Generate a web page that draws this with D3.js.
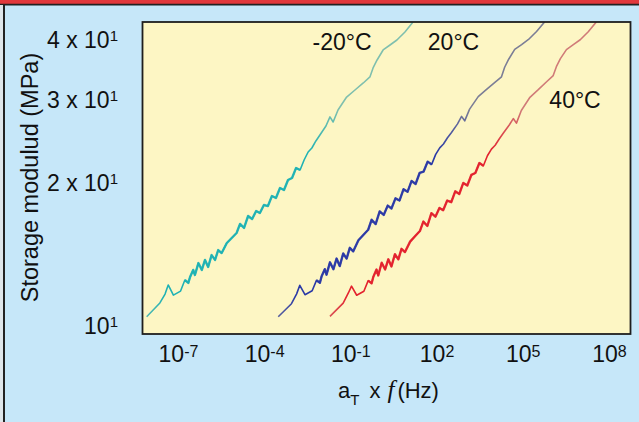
<!DOCTYPE html>
<html>
<head>
<meta charset="utf-8">
<script src="https://cdn.jsdelivr.net/npm/d3@7"></script>
<style>
  body { margin: 0; background: #c6e7f9; }
  svg { display: block; font-family: "Liberation Sans", Arial, sans-serif; }
</style>
</head>
<body>
<div id="chart"></div>
<script>
// storage modulus vs reduced frequency (aT x f), three test temperatures
var tempLabels = ["-20°C", "20°C", "40°C"];
var labelExp = [-1.29, 2.59, 6.82];
var labelMod = [40.0, 40.0, 30.2];

var xTickExp = [-7, -4, -1, 2, 5, 8];
var yTickValues = [10, 20, 30, 40];
var yTickPrefix = ["", "2 x ", "3 x ", "4 x "];

// -20°C (log10 of reduced frequency, modulus in MPa)
var expM20 = [-8.09,-7.63,-7.45,-7.34,-7.16,-6.91,-6.76,-6.64,-6.58,-6.47,-6.41,-6.29,-6.17,-6.06,-5.95,-5.83,-5.71,-5.60,-5.48,-5.30,
  -5.13,-4.96,-4.84,-4.70,-4.56,-4.42,-4.28,-4.15,-4.01,-3.87,-3.73,-3.59,-3.45,-3.31,-3.17,-3.03,-2.89,-2.75,-2.61,-2.47,
  -2.34,-2.20,-2.06,-1.85,-1.71,-1.60,-1.43,-1.13,-0.84,-0.55,-0.32,-0.21,-0.07,0.14,0.38,0.62,0.90,1.18];
var modM20 = [10.56,11.29,11.79,12.32,11.73,11.96,12.62,12.44,12.80,13.25,12.93,13.70,13.25,13.91,13.44,14.24,13.91,14.59,14.38,15.10,
  15.47,15.85,16.56,16.24,17.21,16.96,17.63,17.46,18.15,18.06,18.96,18.78,19.71,19.52,20.49,20.69,21.72,21.51,22.58,23.47,
  23.93,24.76,25.49,26.63,27.82,27.15,28.77,30.64,31.70,32.80,33.77,35.28,36.67,38.49,39.43,40.40,42.00,44.08];

// 20°C
var exp20 = [-3.51,-3.05,-2.87,-2.76,-2.58,-2.33,-2.18,-2.06,-2.00,-1.89,-1.83,-1.71,-1.59,-1.48,-1.37,-1.25,-1.13,-1.02,-0.90,-0.72,
  -0.55,-0.38,-0.26,-0.12,0.02,0.16,0.30,0.43,0.57,0.71,0.85,0.99,1.13,1.27,1.41,1.55,1.69,1.83,1.97,2.11,
  2.24,2.38,2.52,2.73,2.87,2.98,3.15,3.45,3.74,4.03,4.26,4.37,4.51,4.72,4.96,5.20,5.48,5.76];
var mod20 = [10.56,11.25,11.80,12.30,11.75,11.98,12.60,12.45,12.85,13.30,12.95,13.75,13.30,14.00,13.50,14.35,14.00,14.75,14.50,15.30,
  15.70,16.10,16.90,16.55,17.60,17.30,18.10,17.85,18.75,18.55,19.60,19.35,20.40,20.10,21.20,21.35,22.40,22.10,23.20,23.95,
  24.40,25.15,25.80,26.90,27.90,27.30,28.90,30.70,31.80,32.90,33.80,35.40,36.80,38.60,39.50,40.50,42.10,44.10];

// 40°C
var exp40 = [-1.71,-1.25,-1.07,-0.96,-0.78,-0.53,-0.38,-0.26,-0.20,-0.09,-0.03,0.09,0.21,0.32,0.43,0.55,0.67,0.78,0.90,1.08,
  1.25,1.42,1.54,1.68,1.82,1.96,2.10,2.23,2.37,2.51,2.65,2.79,2.93,3.07,3.21,3.35,3.49,3.63,3.77,3.91,
  4.04,4.18,4.32,4.53,4.67,4.78,4.95,5.25,5.54,5.83,6.06,6.17,6.31,6.52,6.76,7.00,7.28,7.56];
var mod40 = [10.58,11.28,11.85,12.25,11.72,11.95,12.58,12.42,12.82,13.28,12.90,13.72,13.28,13.95,13.48,14.30,13.95,14.68,14.45,15.20,
  15.60,16.00,16.75,16.40,17.45,17.15,17.90,17.70,18.55,18.40,19.40,19.15,20.20,19.95,21.00,21.20,22.25,21.95,23.05,23.80,
  24.25,25.00,25.70,26.75,27.60,27.00,28.70,30.60,31.75,33.00,34.00,35.50,36.90,38.55,39.50,40.45,42.05,44.10];

var curves = [
  {exps: expM20, mods: modM20, light: "#7fbfae", dense: "#1fb2b4"},
  {exps: exp20,  mods: mod20,  light: "#7c7e96", dense: "#2b3aa6"},
  {exps: exp40,  mods: mod40,  light: "#d07b78", dense: "#e3222e"}
];

var W = 639, H = 422;
var margin = {top: 22, left: 142.5},
    width = 488,
    height = 312;

var svg = d3.select("#chart").append("svg")
    .attr("width", W)
    .attr("height", H);

// page frame
svg.append("rect").attr("width", W).attr("height", H).attr("fill", "#c6e7f9");
svg.append("rect").attr("width", W).attr("height", 4).attr("fill", "#e2383c");
svg.append("line").attr("x1", 0).attr("x2", W).attr("y1", 4.6).attr("y2", 4.6)
    .attr("stroke", "#222").attr("stroke-width", 1.6);
svg.append("rect").attr("x", 0).attr("y", 5).attr("width", 3).attr("height", H).attr("fill", "#dfe6ea");
svg.append("line").attr("x1", 4).attr("x2", 4).attr("y1", 4).attr("y2", H)
    .attr("stroke", "#222").attr("stroke-width", 2);

var g = svg.append("g")
    .attr("transform", "translate(" + margin.left + "," + margin.top + ")");

// set the ranges
var x = d3.scaleLog().domain([Math.pow(10, -8.235), Math.pow(10, 8.75)]).range([0, width]);
var y = d3.scaleLog().domain([9.713, 44.08]).range([height, 0]);

g.append("rect").attr("width", width).attr("height", height).attr("fill", "#fdf6c4");

var defs = svg.append("defs");
defs.append("clipPath").attr("id", "plotclip")
  .append("rect").attr("width", width).attr("height", height);

curves.forEach(function(c, i) {
  var grad = defs.append("linearGradient").attr("id", "grad" + i)
      .attr("gradientUnits", "userSpaceOnUse")
      .attr("x1", 0).attr("x2", 0).attr("y1", height).attr("y2", 0);
  grad.append("stop").attr("offset", 0).attr("stop-color", c.light);
  grad.append("stop").attr("offset", 0.12).attr("stop-color", c.dense);
  grad.append("stop").attr("offset", 0.58).attr("stop-color", c.dense);
  grad.append("stop").attr("offset", 0.72).attr("stop-color", c.light);
  grad.append("stop").attr("offset", 1).attr("stop-color", c.light);
});

var valueline = d3.line()
    .x(function(d) { return x(Math.pow(10, d[0])); })
    .y(function(d) { return y(d[1]); });

var plot = g.append("g").attr("clip-path", "url(#plotclip)");

// full trace
plot.selectAll(".trace")
  .data(curves)
  .enter().append("path")
    .attr("class", "trace")
    .attr("d", function(c) { return valueline(d3.zip(c.exps, c.mods)); })
    .attr("fill", "none")
    .attr("stroke", function(c, i) { return "url(#grad" + i + ")"; })
    .attr("stroke-width", 1.6)
    .attr("stroke-linejoin", "round");

// the noisy middle stretch prints heavier
plot.selectAll(".dense")
  .data(curves)
  .enter().append("path")
    .attr("class", "dense")
    .attr("d", function(c) { return valueline(d3.zip(c.exps, c.mods).slice(6, 38)); })
    .attr("fill", "none")
    .attr("stroke", function(c) { return c.dense; })
    .attr("stroke-opacity", 0.85)
    .attr("stroke-width", 2.4)
    .attr("stroke-linejoin", "round");

// temperature labels
g.selectAll(".temp")
  .data(tempLabels)
  .enter().append("text")
    .attr("class", "temp")
    .attr("x", function(d, i) { return x(Math.pow(10, labelExp[i])); })
    .attr("y", function(d, i) { return y(labelMod[i]); })
    .attr("dy", "0.36em")
    .attr("text-anchor", "middle")
    .attr("font-size", 23)
    .attr("fill", "#111")
    .text(function(d) { return d; });

// plot border
g.append("rect").attr("width", width).attr("height", height)
    .attr("fill", "none").attr("stroke", "#1e1e1e").attr("stroke-width", 1.8);

// Y axis
var yAxis = g.append("g")
    .call(d3.axisLeft(y).tickValues(yTickValues).tickSize(0).tickPadding(24.5).tickFormat(""));
yAxis.select(".domain").remove();
yAxis.attr("font-size", 23).attr("font-family", null).attr("color", "#111");
yAxis.selectAll(".tick text").attr("dy", "0.25em").each(function(d, i) {
  var t = d3.select(this);
  t.append("tspan").text(yTickPrefix[i] + "10");
  t.append("tspan").attr("font-size", 15).attr("dy", -7).text("1");
});

// X axis
var xAxis = g.append("g")
    .attr("transform", "translate(0," + height + ")")
    .call(d3.axisBottom(x).tickValues(xTickExp.map(function(e) { return Math.pow(10, e); }))
      .tickSize(0).tickPadding(12).tickFormat(""));
xAxis.select(".domain").remove();
xAxis.attr("font-size", 23).attr("font-family", null).attr("color", "#111");
xAxis.selectAll(".tick text").each(function(d, i) {
  var t = d3.select(this);
  t.append("tspan").text("10");
  t.append("tspan").attr("font-size", 16).attr("dy", -5).text(String(xTickExp[i]));
});

// axis titles
var xt = svg.append("text")
    .attr("x", 338).attr("y", 398)
    .attr("font-size", 22).attr("fill", "#111");
xt.append("tspan").text("a");
xt.append("tspan").attr("font-size", 15).attr("dy", 7).text("T");
xt.append("tspan").attr("dy", -7).attr("dx", 10).text("x");
xt.append("tspan").attr("dx", 7).attr("font-family", "'Liberation Serif', serif")
    .attr("font-style", "italic").attr("font-size", 25).text("f");
xt.append("tspan").attr("dx", 3).text("(Hz)");

svg.append("text")
    .attr("transform", "translate(37.5,177.5) rotate(-90)")
    .attr("text-anchor", "middle")
    .attr("font-size", 23.5)
    .attr("fill", "#111")
    .text("Storage modulud (MPa)");
</script>
</body>
</html>
